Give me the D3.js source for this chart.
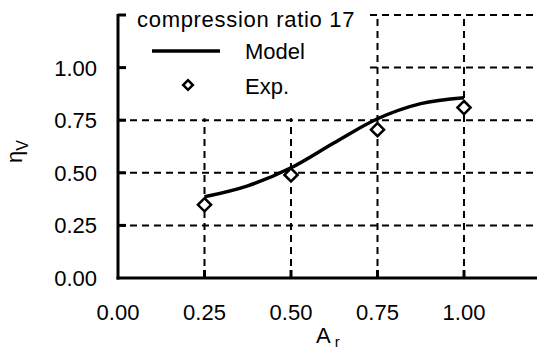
<!DOCTYPE html>
<html>
<head>
<meta charset="utf-8">
<script src="https://cdn.jsdelivr.net/npm/d3@7"></script>
<style>
  body { margin: 0; background: #fff; }
  text { font-family: "Liberation Sans", Arial, sans-serif; fill: #000; }
</style>
</head>
<body>
<div id="chart"></div>
<script>
// Data
const modelAr  = [0.25, 0.375, 0.5, 0.625, 0.75, 0.875, 1.0];
const modelEta = [0.386, 0.438, 0.524, 0.643, 0.757, 0.829, 0.857];
const expAr  = [0.25, 0.50, 0.75, 1.00];
const expEta = [0.348, 0.49, 0.705, 0.81];
const xTicks = [0, 0.25, 0.5, 0.75, 1.0];
const yTicks = [0, 0.25, 0.5, 0.75, 1.0, 1.25];

const width = 537, height = 351;

const svg = d3.select("#chart")
  .append("svg")
  .attr("width", width)
  .attr("height", height);

const x = d3.scaleLinear().domain([0, 1.2]).range([118, 533.2]);
const y = d3.scaleLinear().domain([0, 1.25]).range([278, 15]);

// Dashed grid
const grid = svg.append("g")
  .attr("stroke", "#000")
  .attr("stroke-width", 2)
  .attr("stroke-dasharray", "7,5");

grid.selectAll(".hgrid")
  .data(yTicks.filter(d => d > 0))
  .join("line")
  .attr("x1", x(0)).attr("x2", width)
  .attr("y1", d => y(d)).attr("y2", d => y(d));

grid.selectAll(".vgrid")
  .data(xTicks.filter(d => d > 0))
  .join("line")
  .attr("x1", d => x(d)).attr("x2", d => x(d))
  .attr("y1", y(0)).attr("y2", y(1.25));

// Legend box hides the grid behind it
svg.append("rect")
  .attr("x", x(0) + 1)
  .attr("y", 0)
  .attr("width", 247)
  .attr("height", y(0.75) - 2)
  .attr("fill", "#fff");

// Axes lines
svg.append("line")
  .attr("x1", x(0)).attr("x2", x(0))
  .attr("y1", y(1.25) - 1).attr("y2", y(0) + 1.5)
  .attr("stroke", "#000").attr("stroke-width", 3);
svg.append("line")
  .attr("x1", x(0) - 1.5).attr("x2", width)
  .attr("y1", y(0)).attr("y2", y(0))
  .attr("stroke", "#000").attr("stroke-width", 3);

// Inward ticks
svg.selectAll(".ytick")
  .data(yTicks.filter(d => d > 0))
  .join("line")
  .attr("x1", x(0)).attr("x2", x(0) + 8)
  .attr("y1", d => y(d)).attr("y2", d => y(d))
  .attr("stroke", "#000").attr("stroke-width", 3);
svg.selectAll(".xtick")
  .data(xTicks.filter(d => d > 0))
  .join("line")
  .attr("x1", d => x(d)).attr("x2", d => x(d))
  .attr("y1", y(0)).attr("y2", y(0) - 8)
  .attr("stroke", "#000").attr("stroke-width", 3);

// Tick labels
svg.selectAll(".ylab")
  .data(yTicks.filter(d => d <= 1))
  .join("text")
  .attr("x", x(0) - 21)
  .attr("y", d => y(d))
  .attr("dy", "0.36em")
  .attr("text-anchor", "end")
  .attr("font-size", 22)
  .text(d => d.toFixed(2));

svg.selectAll(".xlab")
  .data(xTicks)
  .join("text")
  .attr("x", d => x(d))
  .attr("y", 320)
  .attr("text-anchor", "middle")
  .attr("font-size", 22)
  .text(d => d.toFixed(2));

// Axis titles
const xt = svg.append("text")
  .attr("x", 316)
  .attr("y", 343)
  .attr("font-size", 22);
xt.append("tspan").text("A");
xt.append("tspan").attr("dx", 4).attr("dy", 4).attr("font-size", 15).text("r");

const yt = svg.append("text")
  .attr("transform", "translate(22,163) rotate(-90)")
  .attr("font-size", 22);
yt.append("tspan").text("η");
yt.append("tspan").attr("dy", 6).attr("font-size", 16).text("V");

// Model curve
const line = d3.line()
  .x((d, i) => x(modelAr[i]))
  .y(d => y(d))
  .curve(d3.curveMonotoneX);

svg.append("path")
  .datum(modelEta)
  .attr("d", line)
  .attr("fill", "none")
  .attr("stroke", "#000")
  .attr("stroke-width", 3.5);

// Experimental points
const diamond = d3.symbol().type(d3.symbolDiamond2);
svg.selectAll(".exp")
  .data(expEta)
  .join("path")
  .attr("transform", (d, i) => `translate(${x(expAr[i])},${y(d)})`)
  .attr("d", diamond.size(110)())
  .attr("fill", "#fff")
  .attr("stroke", "#000")
  .attr("stroke-width", 2.5);

// Legend
svg.append("text")
  .attr("x", 137).attr("y", 27)
  .attr("font-size", 22)
  .attr("letter-spacing", 0.7)
  .text("compression ratio 17");
svg.append("line")
  .attr("x1", 152).attr("x2", 220)
  .attr("y1", 51).attr("y2", 51)
  .attr("stroke", "#000").attr("stroke-width", 3.5);
svg.append("text")
  .attr("x", 245).attr("y", 59)
  .attr("font-size", 22)
  .text("Model");
svg.append("path")
  .attr("transform", "translate(188,85)")
  .attr("d", diamond.size(60)())
  .attr("fill", "#fff")
  .attr("stroke", "#000")
  .attr("stroke-width", 2.5);
svg.append("text")
  .attr("x", 245).attr("y", 94)
  .attr("font-size", 22)
  .text("Exp.");
</script>
</body>
</html>
